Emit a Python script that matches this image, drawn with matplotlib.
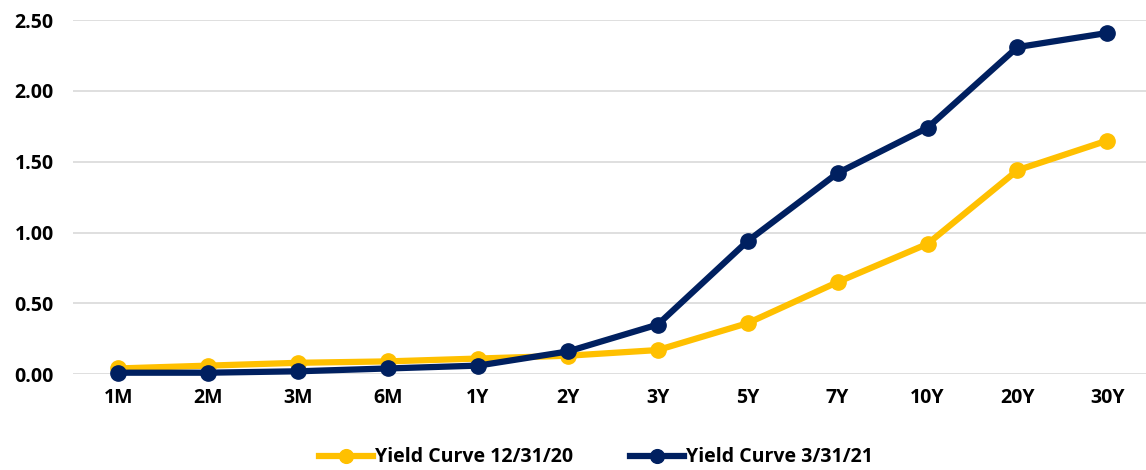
import matplotlib.pyplot as plt

# tenors and yields (%)
tenors = ['1M', '2M', '3M', '6M', '1Y', '2Y', '3Y', '5Y', '7Y', '10Y', '20Y', '30Y']
yc_dec20 = [0.04, 0.06, 0.08, 0.09, 0.11, 0.13, 0.17, 0.36, 0.65, 0.92, 1.44, 1.65]
yc_mar21 = [0.01, 0.01, 0.02, 0.04, 0.06, 0.16, 0.35, 0.94, 1.42, 1.74, 2.31, 2.41]

plt.rcParams['font.family'] = ['Open Sans', 'DejaVu Sans']

fig = plt.figure(figsize=(11.46, 4.70), dpi=100)
ax = fig.add_axes([0.064, 0.204, 0.936, 0.753])

x = range(len(tenors))
ax.plot(x, yc_dec20, color='#FFC000', lw=4.5, marker='o', ms=11,
        label='Yield Curve 12/31/20', clip_on=False, zorder=3)
ax.plot(x, yc_mar21, color='#002060', lw=4.5, marker='o', ms=11,
        label='Yield Curve 3/31/21', clip_on=False, zorder=4)

ax.set_ylim(0, 2.5)
ax.set_xlim(-0.5, 11.43)
ax.set_yticks([0, 0.5, 1.0, 1.5, 2.0, 2.5])
ax.set_yticklabels(['%.2f' % v for v in [0, 0.5, 1.0, 1.5, 2.0, 2.5]])
ax.set_xticks(list(x))
ax.set_xticklabels(tenors)
ax.tick_params(axis='both', length=0, labelsize=14, pad=10)
ax.tick_params(axis='y', pad=14)
for lab in ax.get_xticklabels() + ax.get_yticklabels():
    lab.set_fontweight('bold')

ax.grid(axis='y', color='#D9D9D9', lw=1.2)
ax.set_axisbelow(True)
for s in ax.spines.values():
    s.set_visible(False)

leg = fig.legend(loc='center', bbox_to_anchor=(0.52, 0.027), ncol=2, frameon=False,
                 prop={'size': 14, 'weight': 'bold'}, handlelength=2.8,
                 handletextpad=0.1, columnspacing=2.9, markerscale=0.9)

fig.savefig('out.png', dpi=100)
